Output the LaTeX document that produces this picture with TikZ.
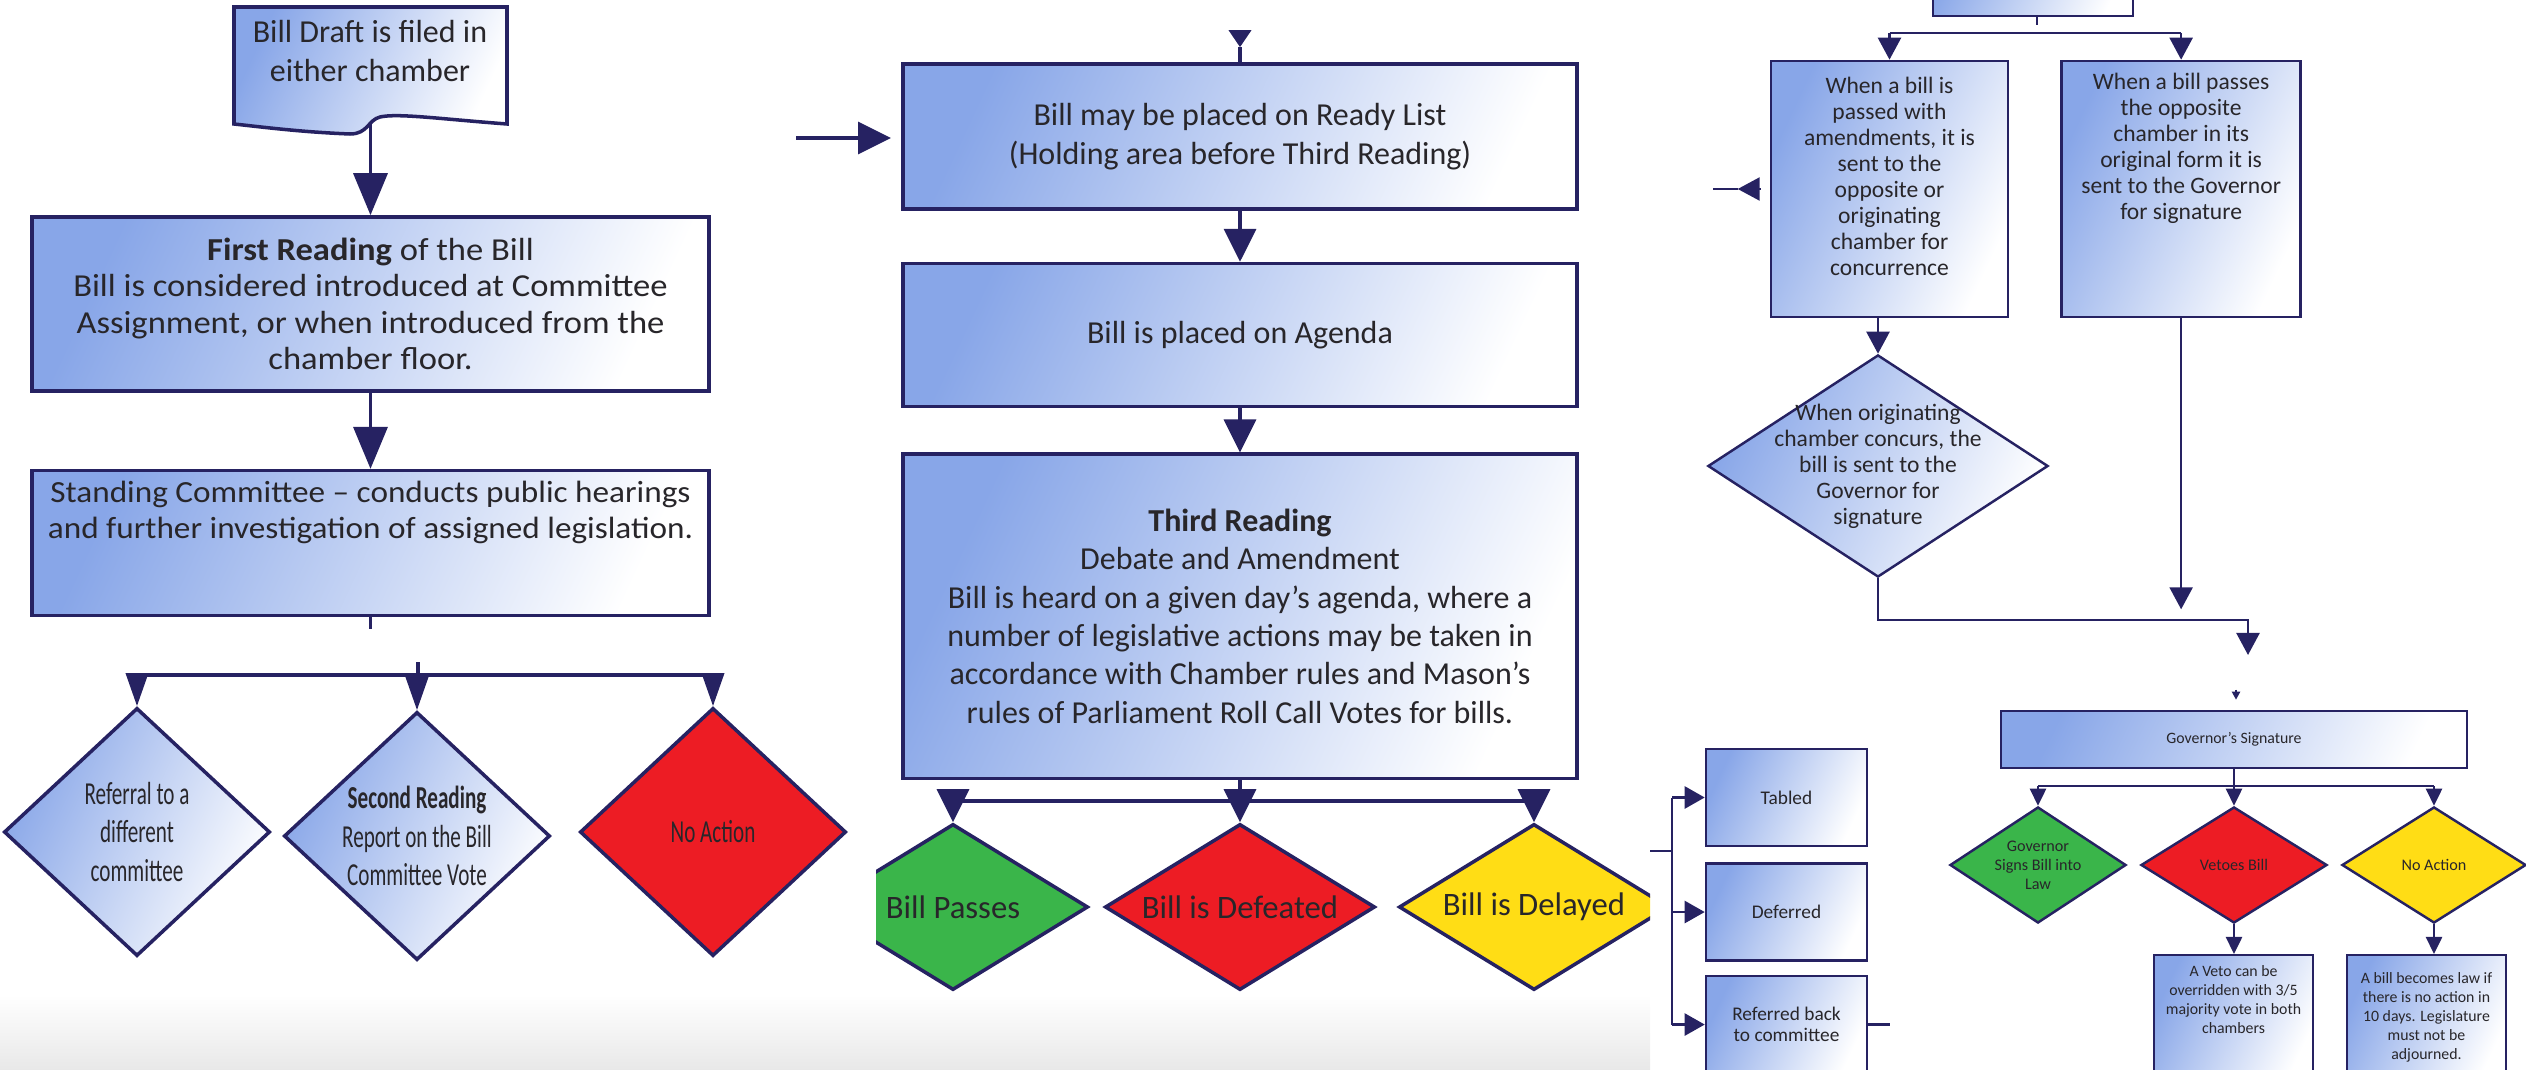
\documentclass[tikz,border=0pt]{standalone}
\usepackage{fontspec}
\setmainfont{Carlito}
\newfontfamily\narrowfont{Carlito}[FakeStretch=0.66]
\newfontfamily\wideface{Carlito}[FakeStretch=1.08]
\usetikzlibrary{positioning, arrows.meta, shapes.geometric, calc}

\definecolor{navy}{RGB}{38,34,98}
\definecolor{bluetop}{RGB}{136,166,232}
\definecolor{passgreen}{RGB}{58,181,74}
\definecolor{failred}{RGB}{237,28,36}
\definecolor{waityellow}{RGB}{255,221,21}
\definecolor{inktext}{RGB}{40,38,42}

\begin{document}
\begin{tikzpicture}[
    x=0.01cm, y=-0.01cm,
    font=\fontsize{9.1}{10.9}\selectfont,
    box/.style={draw=navy, line width=1pt, top color=bluetop, bottom color=white, shading angle=65, align=center, text=inktext, inner sep=1mm},
    widebox/.style={box, font=\wideface\fontsize{9.1}{10.3}\selectfont},
    smallbox/.style={box, line width=0.7pt, font=\fontsize{6.7}{7.4}\selectfont},
    tinybox/.style={box, line width=0.7pt, font=\fontsize{4.5}{5.4}\selectfont},
    dia/.style={diamond, draw=navy, line width=1pt, inner sep=0pt, align=center, text=inktext},
    bluedia/.style={dia, top color=bluetop, bottom color=white, shading angle=65},
    link/.style={draw=navy, line width=1pt},
    thinlink/.style={draw=navy, line width=0.7pt},
    bigarrow/.style={link, -{Triangle[length=0.42cm, width=0.34cm]}},
    droparrow/.style={link, -{Triangle[length=0.33cm, width=0.22cm]}},
    arrow/.style={link, -{Triangle[length=0.33cm, width=0.32cm]}},
    headonly/.style={link, -{Triangle[length=0.17cm, width=0.22cm]}},
    thinarrow/.style={thinlink, -{Triangle[length=0.22cm, width=0.23cm]}},
    forkarrow/.style={thinlink, -{Triangle[length=0.20cm, width=0.22cm]}},
    govarrow/.style={thinlink, -{Triangle[length=0.17cm, width=0.16cm]}},
    tinyarrow/.style={thinlink, -{Triangle[length=0.08cm, width=0.08cm]}}
]
\useasboundingbox (0,0) rectangle (2526,1070);
\clip (0,0) rectangle (2526,1070);

% faded strip under the first two screenshots
\shade[top color=white, bottom color=black!9] (0,995) rectangle (1650,1070);

% ================= Panel 1: filing and committee =================

% Document shape for the draft
\draw[line width=1pt, draw=navy, top color=bluetop, bottom color=white, shading angle=65]
    (234,7) -- (507,7) -- (507,124)
    .. controls (440,119) and (398,113) .. (380,117)
    .. controls (368,120) and (368,134) .. (350,134)
    .. controls (300,132) and (262,127) .. (234,124) -- cycle;
\node[align=center, text=inktext] (draft) at (370,51) {Bill Draft is filed in\\either chamber};
\coordinate (draftfoot) at (370.5,124);

\node[widebox, minimum width=6.77cm, minimum height=1.74cm] (first) at (370.5,304) {\textbf{First Reading} of the Bill\\Bill is considered introduced at Committee\\Assignment, or when introduced from the\\chamber floor.};
\node[widebox, font=\wideface\fontsize{8.75}{10.3}\selectfont, below=0.76cm of first, minimum width=6.77cm, minimum height=1.45cm] (standing) {Standing Committee – conducts public hearings\\and further investigation of assigned legislation.\\[3mm]\mbox{}};

\draw[bigarrow] (draftfoot) -- (first.north);
\draw[bigarrow] (first.south) -- (standing.north);

% Committee outcomes
\node[bluedia, aspect=1.07, minimum width=2.66cm, minimum height=2.48cm] (referral) at (137,832) {\narrowfont Referral to a\\\narrowfont different\\\narrowfont committee};
\node[bluedia, aspect=1.07, minimum width=2.66cm, minimum height=2.48cm] (second) at (417,836) {\narrowfont\textbf{Second Reading}\\\narrowfont Report on the Bill\\\narrowfont Committee Vote};
\node[dia, aspect=1.07, fill=failred, minimum width=2.66cm, minimum height=2.48cm] (noaction) at (713,832) {\narrowfont No Action};

\draw[link] (standing.south) -- ++(0,12);
\coordinate (split1) at (418,662);
\draw[link] (split1) -- ++(0,13) coordinate (bar1);
\draw[link] (referral.north |- bar1) -- (noaction.north |- bar1);
\draw[droparrow] (referral.north |- bar1) -- (referral.north);
\draw[droparrow] (second.north |- bar1) -- (second.north);
\draw[droparrow] (noaction.north |- bar1) -- (noaction.north);

% ================= Panel 2: ready list and third reading =================

\node[box, minimum width=6.74cm, minimum height=1.45cm] (ready) at (1240,136.5) {Bill may be placed on Ready List\\(Holding area before Third Reading)};
\node[box, below=0.51cm of ready, minimum width=6.74cm, minimum height=1.43cm] (agenda) {Bill is placed on Agenda};
\node[box, below=0.44cm of agenda, minimum width=6.74cm, minimum height=3.24cm] (third) {\textbf{Third Reading}\\Debate and Amendment\\Bill is heard on a given day’s agenda, where a\\number of legislative actions may be taken in\\accordance with Chamber rules and Mason’s\\rules of Parliament Roll Call Votes for bills.};

\coordinate (readyin) at (796,138);
\draw[arrow] (readyin) -- ([xshift=-1mm]readyin -| ready.west);
\draw[link] (ready.north) -- ++(0,-15) coordinate (readystem);
\draw[headonly] ([yshift=0.17cm]readystem) -- (readystem);
\draw[arrow] (ready.south) -- (agenda.north);
\draw[arrow] (agenda.south) -- (third.north);

% Floor outcomes (cut off at both screenshot edges)
\begin{scope}
\clip (876,700) rectangle (1650,1070);
\node[dia, aspect=1.63, fill=passgreen, minimum width=2.70cm, minimum height=1.66cm, font=\fontsize{9.3}{11}\selectfont] (billpass) at (953,907) {Bill Passes};
\node[dia, aspect=1.63, fill=failred, minimum width=2.70cm, minimum height=1.66cm, font=\fontsize{9.3}{11}\selectfont] (billfail) at (1240,907) {Bill is Defeated};
\node[dia, aspect=1.63, fill=waityellow, minimum width=2.70cm, minimum height=1.66cm, font=\fontsize{9.3}{11}\selectfont] (billdelay) at (1534,907) {Bill is Delayed};
\end{scope}

\draw[link] (third.south) -- ++(0,21) coordinate (bar2);
\draw[link] (billpass.north |- bar2) -- (billdelay.north |- bar2);
\draw[arrow] (billpass.north |- bar2) -- (billpass.north);
\draw[arrow] (billfail.north |- bar2) -- (billfail.north);
\draw[arrow] (billdelay.north |- bar2) -- (billdelay.north);

% ================= Panel 3: delay options =================

\node[box, line width=0.7pt, font=\fontsize{5.5}{6}\selectfont, minimum width=1.61cm, minimum height=0.97cm] (tabled) at (1786.5,797.5) {Tabled};
\node[box, line width=0.7pt, font=\fontsize{5.5}{6}\selectfont, below=0.15cm of tabled, minimum width=1.61cm, minimum height=0.97cm] (deferred) {Deferred};
\node[box, line width=0.7pt, font=\fontsize{5.5}{6}\selectfont, below=0.13cm of deferred, minimum width=1.61cm, minimum height=0.97cm] (referred) {Referred back\\to committee};

\coordinate (delayin) at (1650,851);
\coordinate (fork) at (1672,851);
\draw[thinlink] (delayin) -- (fork);
\draw[thinlink] (fork |- tabled.west) -- (fork |- referred.west);
\draw[forkarrow] (fork |- tabled.west) -- (tabled.west);
\draw[forkarrow] (fork |- deferred.west) -- (deferred.west);
\draw[forkarrow] (fork |- referred.west) -- (referred.west);
\draw[thinlink] (referred.east) -- ++(22,0);

% ================= Panel 3: second chamber =================

\node[box, line width=0.7pt, minimum width=2.0cm, minimum height=0.8cm, anchor=south] (prevstep) at (2033,17) {};
\draw[thinlink] (2037,17) -- ++(0,8);

\node[smallbox, minimum width=2.37cm, minimum height=2.56cm] (amended) at (1889.5,189) {When a bill is\\passed with\\amendments, it is\\sent to the\\opposite or\\originating\\chamber for\\concurrence\\[0pt]\mbox{}};
\node[smallbox, right=0.51cm of amended, minimum width=2.39cm, minimum height=2.56cm] (unamended) {When a bill passes\\the opposite\\chamber in its\\original form it is\\sent to the Governor\\for signature\\[6mm]\mbox{}};

\coordinate (fork3) at (2037,33);
\draw[thinlink] (amended.north |- fork3) -- (unamended.north |- fork3);
\draw[thinarrow] (amended.north |- fork3) -- (amended.north);
\draw[thinarrow] (unamended.north |- fork3) -- (unamended.north);

\draw[thinarrow] ([xshift=-0.09cm]amended.west) -- ++(-23,0) coordinate (amendtip);
\draw[thinlink] (amendtip) -- ++(-25,0);

\node[bluedia, aspect=1.53, inner sep=-0.17cm, line width=0.7pt, font=\fontsize{6.7}{7.4}\selectfont, minimum width=3.40cm, minimum height=2.22cm] (concur) at (1878,466) {When originating\\chamber concurs, the\\bill is sent to the\\Governor for\\signature};
\draw[thinarrow] (concur.north |- amended.south) -- (concur.north);

\draw[thinarrow] (unamended.south) -- ++(0,291);
\coordinate (govin) at (2248,655);
\draw[thinarrow] (concur.south) |- ($(govin)+(0,-35)$) -- (govin);

% ================= Panel 3: governor =================

\node[tinybox, minimum width=4.66cm, minimum height=0.57cm] (gov) at (2234,739.5) {Governor’s Signature};
\draw[tinyarrow] ([xshift=0.02cm, yshift=0.20cm]gov.north) -- ([xshift=0.02cm, yshift=0.10cm]gov.north);

\node[dia, aspect=1.52, line width=0.7pt, fill=passgreen, font=\fontsize{4.6}{5.4}\selectfont, minimum width=1.76cm, minimum height=1.16cm] (signs) at (2038,865) {Governor\\Signs Bill into\\Law};
\node[dia, aspect=1.6, line width=0.7pt, fill=failred, font=\fontsize{4.6}{5.4}\selectfont, minimum width=1.86cm, minimum height=1.16cm] (vetoes) at (2234,865) {Vetoes Bill};
\node[dia, aspect=1.59, line width=0.7pt, fill=waityellow, font=\fontsize{4.6}{5.4}\selectfont, minimum width=1.84cm, minimum height=1.16cm] (lapse) at (2434,865) {No Action};

\draw[thinlink] (gov.south) -- ++(0,17) coordinate (fork4);
\draw[thinlink] (signs.north |- fork4) -- (lapse.north |- fork4);
\draw[govarrow] (signs.north |- fork4) -- (signs.north);
\draw[govarrow] (vetoes.north |- fork4) -- (vetoes.north);
\draw[govarrow] (lapse.north |- fork4) -- (lapse.north);

\node[tinybox, anchor=north, minimum width=1.59cm, minimum height=1.24cm] (override) at (2233.5,954) {A Veto can be\\overridden with 3/5\\majority vote in both\\chambers\\[2mm]\mbox{}};
\node[tinybox, anchor=north, minimum width=1.59cm, minimum height=1.24cm] (lawbox) at (2426.5,954) {A bill becomes law if\\there is no action in\\10 days. Legislature\\must not be\\adjourned.};

\draw[govarrow] (vetoes.south) -- (vetoes.south |- override.north);
\draw[govarrow] (lapse.south) -- (lapse.south |- lawbox.north);

\end{tikzpicture}
\end{document}
